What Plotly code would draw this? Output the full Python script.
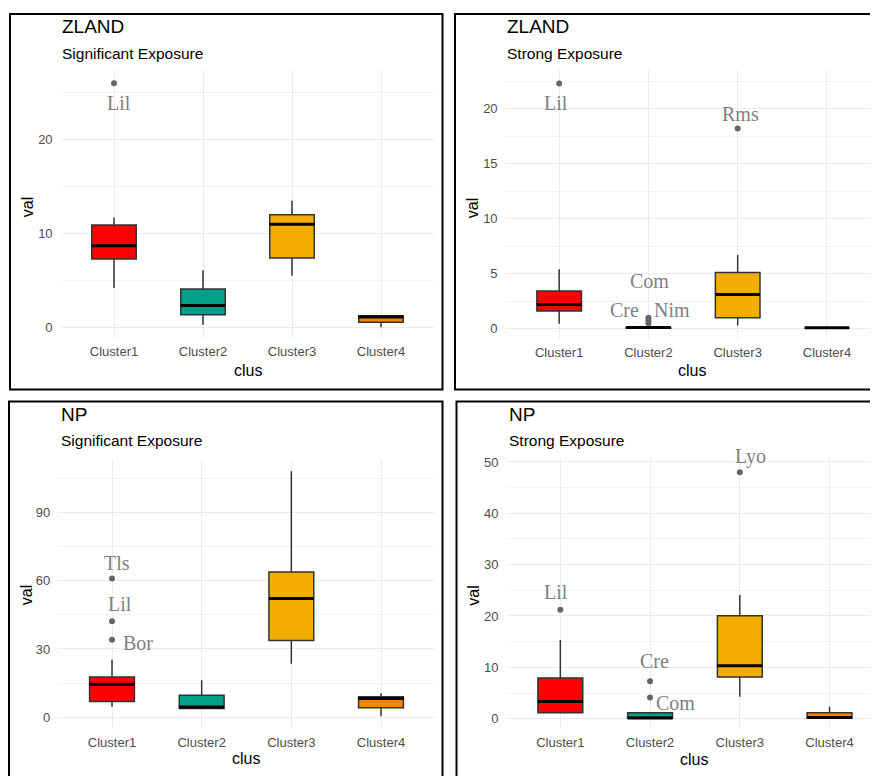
import plotly.graph_objects as go

# page body has an 8px margin, so the figure is 870x768 starting at (8, 8)
OFF = 8
W, H = 870, 768

clusters = ["Cluster1", "Cluster2", "Cluster3", "Cluster4"]
colors = ["#FF0000", "#00A08A", "#F2AD00", "#F98400"]

# ---- ZLAND, Significant Exposure ----
zs_q1 = [7.3, 1.35, 7.4, 0.56]
zs_med = [8.7, 2.35, 11.0, 1.12]
zs_q3 = [10.9, 4.1, 12.0, 1.25]
zs_lo = [4.2, 0.3, 5.5, 0.03]
zs_hi = [11.7, 6.1, 13.5, 1.25]
zs_out_idx = [0]
zs_out_val = [26.0]
zs_out_lab = ["Lil"]

# ---- ZLAND, Strong Exposure ----
zt_q1 = [1.6, 0.05, 1.0, 0.08]
zt_med = [2.2, 0.1, 3.1, 0.08]
zt_q3 = [3.43, 0.12, 5.1, 0.08]
zt_lo = [0.45, 0.05, 0.3, 0.08]
zt_hi = [5.4, 0.12, 6.7, 0.08]
zt_out_idx = [0, 1, 1, 1, 2]
zt_out_val = [22.3, 0.5, 1.0, 0.75, 18.2]
zt_out_lab = ["Lil", "Cre", "Com", "Nim", "Rms"]

# ---- NP, Significant Exposure ----
ns_q1 = [6.9, 3.8, 33.7, 4.1]
ns_med = [14.5, 4.4, 52.2, 8.2]
ns_q3 = [17.7, 9.6, 63.9, 8.9]
ns_lo = [4.5, 3.8, 23.5, 0.4]
ns_hi = [25.3, 16.2, 108.3, 10.5]
ns_out_idx = [0, 0, 0]
ns_out_val = [61.0, 42.2, 34.1]
ns_out_lab = ["Tls", "Lil", "Bor"]

# ---- NP, Strong Exposure ----
nt_q1 = [1.15, 0.1, 8.1, 0.1]
nt_med = [3.35, 0.15, 10.3, 0.25]
nt_q3 = [7.9, 1.15, 20.05, 1.15]
nt_lo = [1.15, 0.1, 4.25, 0.1]
nt_hi = [15.3, 1.15, 24.1, 2.3]
nt_out_idx = [0, 1, 1, 2]
nt_out_val = [21.2, 7.3, 4.1, 48.0]
nt_out_lab = ["Lil", "Cre", "Com", "Lyo"]

# ---- layout / styling (screen pixels) ----
panels = [
    dict(title="ZLAND", sub="Significant Exposure",
         stats=(zs_q1, zs_med, zs_q3, zs_lo, zs_hi),
         out=(zs_out_idx, zs_out_val, zs_out_lab),
         offs=[(5, -20)],
         px=(60.6, 434.4), py=(65.5, 335.5), xr=[-0.6, 3.6], yr=[-1.16, 27.4],
         dtick=10, border=(10, 9, 442.5, 387), tx=60, ty=26, sy=53,
         valx=27.5, valy=204, clusx=247.5, clusy=370),
    dict(title="ZLAND", sub="Strong Exposure",
         stats=(zt_q1, zt_med, zt_q3, zt_lo, zt_hi),
         out=(zt_out_idx, zt_out_val, zt_out_lab),
         offs=[(-3, -20), (-24, 13), (1, 37), (24, 10), (3, 15)],
         px=(505.6, 878), py=(65.5, 336.5), xr=[-0.6, 3.572], yr=[-0.97, 23.51],
         dtick=5, border=(455, 9, 885, 387), tx=505, ty=26, sy=53,
         valx=472.5, valy=205, clusx=692, clusy=370),
    dict(title="NP", sub="Significant Exposure",
         stats=(ns_q1, ns_med, ns_q3, ns_lo, ns_hi),
         out=(ns_out_idx, ns_out_val, ns_out_lab),
         offs=[(5, 16), (8, 17), (26, -3)],
         px=(58.2, 434.8), py=(457.3, 728.3), xr=[-0.6, 3.6], yr=[-5.08, 113.5],
         dtick=30, border=(9, 399, 442.5, 790), tx=59, ty=416, sy=442,
         valx=26, valy=594, clusx=246, clusy=760),
    dict(title="NP", sub="Strong Exposure",
         stats=(nt_q1, nt_med, nt_q3, nt_lo, nt_hi),
         out=(nt_out_idx, nt_out_val, nt_out_lab),
         offs=[(-4, 18), (4, 20), (25, -5), (11, 16)],
         px=(506.5, 878), py=(457.3, 729), xr=[-0.6, 3.54], yr=[-2.07, 50.5],
         dtick=10, border=(456.5, 399, 885, 790), tx=507, ty=416, sy=442,
         valx=473.5, valy=595, clusx=694, clusy=761),
]

TITLE_ADJ = -4  # cap-centre vs text-box-centre correction

def fx(p):
    return (p - OFF) / W

def fy(p):
    return 1 - (p - OFF) / H

SANS = "Liberation Sans, Arial, sans-serif"
SERIF = "Liberation Serif, Times New Roman, serif"
BOXW = 0.5

fig = go.Figure()
annotations = []
shapes = []
layout_axes = {}

for k, p in enumerate(panels):
    n = k + 1
    xa = "x" if n == 1 else f"x{n}"
    ya = "y" if n == 1 else f"y{n}"
    q1, med, q3, lo, hi = p["stats"]
    for i, c in enumerate(clusters):
        fig.add_trace(go.Box(
            x=[i], q1=[q1[i]], median=[med[i]], q3=[q3[i]],
            lowerfence=[lo[i]], upperfence=[hi[i]],
            fillcolor=colors[i], line=dict(color="#333333", width=1.5),
            whiskerwidth=0, width=BOXW, boxpoints=False,
            name=c, showlegend=False, xaxis=xa, yaxis=ya, hoverinfo="skip"))
    # thick median lines
    mx, my = [], []
    for i in range(len(clusters)):
        mx += [i - BOXW / 2, i + BOXW / 2, None]
        my += [med[i], med[i], None]
    fig.add_trace(go.Scatter(x=mx, y=my, mode="lines",
                             line=dict(color="#000000", width=3),
                             showlegend=False, xaxis=xa, yaxis=ya, hoverinfo="skip"))
    # outliers
    oi, ov, ol = p["out"]
    fig.add_trace(go.Scatter(x=oi, y=ov, mode="markers",
                             marker=dict(color="#666666", size=6),
                             showlegend=False, xaxis=xa, yaxis=ya, hoverinfo="skip"))
    for j in range(len(oi)):
        dx, dy = p["offs"][j]
        annotations.append(dict(x=oi[j], y=ov[j], xref=xa, yref=ya, text=ol[j],
                                showarrow=False, xshift=dx, yshift=dy,
                                font=dict(family=SERIF, size=20, color="#808080")))
    # axes
    layout_axes["xaxis" if n == 1 else f"xaxis{n}"] = dict(
        domain=[max(0, fx(p["px"][0])), min(1, fx(p["px"][1]))], anchor=ya, range=p["xr"],
        tickmode="array", tickvals=list(range(len(clusters))), ticktext=clusters,
        showgrid=True, gridcolor="#EBEBEB", gridwidth=1, zeroline=False,
        showline=False, ticks="", ticklabelstandoff=4,
        tickfont=dict(family=SANS, size=13, color="#4D4D4D"))
    layout_axes["yaxis" if n == 1 else f"yaxis{n}"] = dict(
        domain=[max(0, fy(p["py"][1])), min(1, fy(p["py"][0]))], anchor=xa, range=p["yr"],
        tickmode="linear", tick0=0, dtick=p["dtick"],
        showgrid=True, gridcolor="#EBEBEB", gridwidth=1, zeroline=False,
        minor=dict(showgrid=True, tick0=0, dtick=p["dtick"] / 2,
                   gridcolor="#F3F3F3", gridwidth=1),
        showline=False, ticks="", ticklabelstandoff=7,
        tickfont=dict(family=SANS, size=13, color="#4D4D4D"))
    # panel border
    bx0, by0, bx1, by1 = p["border"]
    shapes.append(dict(type="rect", xref="paper", yref="paper",
                       x0=fx(bx0), x1=fx(bx1), y0=fy(by1), y1=fy(by0),
                       line=dict(color="#000000", width=2), layer="above"))
    # titles
    annotations.append(dict(x=fx(p["tx"]), y=fy(p["ty"] + TITLE_ADJ), xref="paper", yref="paper",
                            text=p["title"], showarrow=False, xanchor="left", yanchor="middle",
                            font=dict(family=SANS, size=19, color="#000000")))
    annotations.append(dict(x=fx(p["tx"]), y=fy(p["sy"] + TITLE_ADJ), xref="paper", yref="paper",
                            text=p["sub"], showarrow=False, xanchor="left", yanchor="middle",
                            font=dict(family=SANS, size=15.5, color="#000000")))
    annotations.append(dict(x=fx(p["valx"]), y=fy(p["valy"]), xref="paper", yref="paper",
                            text="val", showarrow=False, textangle=-90,
                            xanchor="center", yanchor="middle",
                            font=dict(family=SANS, size=16, color="#000000")))
    annotations.append(dict(x=fx(p["clusx"]), y=fy(p["clusy"] - 2), xref="paper", yref="paper",
                            text="clus", showarrow=False, xanchor="center", yanchor="middle",
                            font=dict(family=SANS, size=16, color="#000000")))

fig.update_layout(
    width=W, height=H, margin=dict(l=0, r=0, t=0, b=0),
    paper_bgcolor="#FFFFFF", plot_bgcolor="#FFFFFF",
    annotations=annotations, shapes=shapes, showlegend=False,
    **layout_axes)

fig.write_html("out.html")
